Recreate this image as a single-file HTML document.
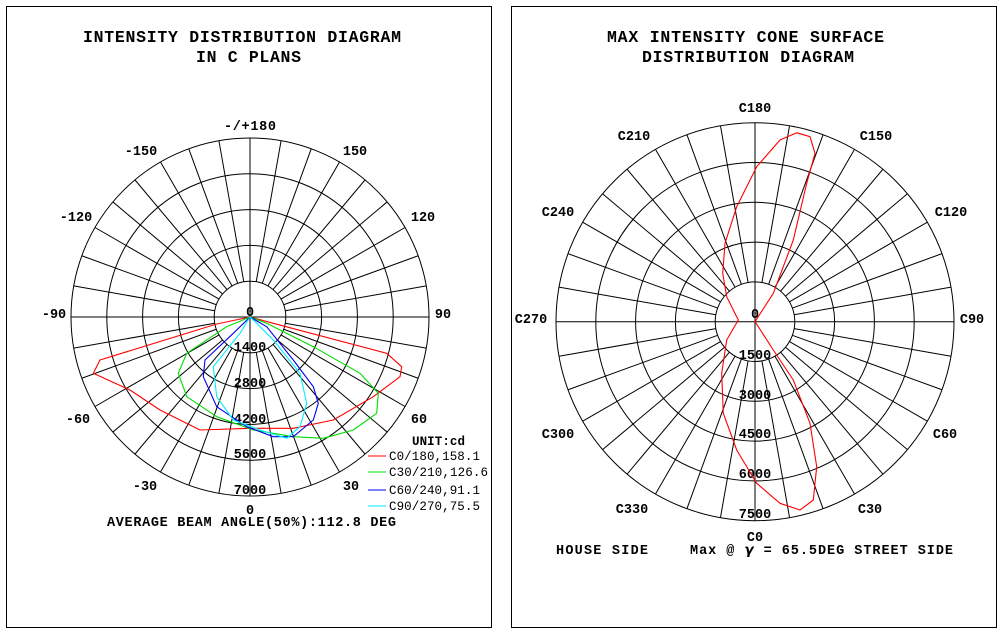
<!DOCTYPE html>
<html><head><meta charset="utf-8"><style>
html,body{margin:0;padding:0;background:#fff;}
svg{display:block;}
text{font-family:"Liberation Mono","DejaVu Sans Mono",monospace;fill:#000;}
.t{font-size:16.5px;font-weight:bold;}
.l{font-size:13.5px;font-weight:bold;}
.s{font-size:12.5px;}
.b{font-size:13.5px;font-weight:bold;}
</style></head><body>
<svg id="s" width="1002" height="635" viewBox="0 0 1002 635" xmlns="http://www.w3.org/2000/svg">
<rect x="6.5" y="6.5" width="485" height="621" fill="none" stroke="#000" stroke-width="1"/>
<rect x="511.5" y="6.5" width="485" height="621" fill="none" stroke="#000" stroke-width="1"/>
<g id="g1" stroke="#000" stroke-width="1" fill="none"></g>
<g id="g2" stroke="#000" stroke-width="1" fill="none"></g>
<text class="t" x="83" y="42" textLength="318" lengthAdjust="spacing">INTENSITY DISTRIBUTION DIAGRAM</text>
<text class="t" x="196" y="62" textLength="105" lengthAdjust="spacing">IN C PLANS</text>
<text class="t" x="607" y="42" textLength="277" lengthAdjust="spacing">MAX INTENSITY CONE SURFACE</text>
<text class="t" x="642" y="62" textLength="212" lengthAdjust="spacing">DISTRIBUTION DIAGRAM</text>
<g class="l" text-anchor="middle">
<text x="250" y="130" textLength="52" lengthAdjust="spacing">-/+180</text>
<text x="355" y="155">150</text><text x="141" y="155">-150</text>
<text x="423" y="221">120</text><text x="76" y="221">-120</text>
<text x="443" y="318">90</text><text x="54" y="318">-90</text>
<text x="419" y="423">60</text><text x="78" y="423">-60</text>
<text x="351" y="490">30</text><text x="145" y="490">-30</text>
<text x="250" y="514">0</text>
<text x="250" y="316">0</text>
<text x="250" y="351">1400</text><text x="250" y="387">2800</text><text x="250" y="423">4200</text><text x="250" y="458">5600</text><text x="250" y="494">7000</text>
<text x="755" y="112">C180</text>
<text x="876" y="140">C150</text><text x="634" y="140">C210</text>
<text x="951" y="216">C120</text><text x="558" y="216">C240</text>
<text x="972" y="323">C90</text><text x="531" y="323">C270</text>
<text x="945" y="438">C60</text><text x="558" y="438">C300</text>
<text x="870" y="513">C30</text><text x="632" y="513">C330</text>
<text x="755" y="541">C0</text>
<text x="755" y="318">0</text>
<text x="755" y="359">1500</text><text x="755" y="399">3000</text><text x="755" y="438">4500</text><text x="755" y="478">6000</text><text x="755" y="518">7500</text>
</g>
<text class="s" x="412" y="445" font-weight="bold" textLength="53" lengthAdjust="spacing">UNIT:cd</text>
<g class="s">
<text x="389" y="460" textLength="91" lengthAdjust="spacing">C0/180,158.1</text>
<text x="389" y="476" textLength="99" lengthAdjust="spacing">C30/210,126.6</text>
<text x="389" y="494" textLength="91" lengthAdjust="spacing">C60/240,91.1</text>
<text x="389" y="510" textLength="91" lengthAdjust="spacing">C90/270,75.5</text>
</g>
<line x1="368" y1="456" x2="386" y2="456" stroke="#ff0000"/>
<line x1="368" y1="472" x2="386" y2="472" stroke="#00dd00"/>
<line x1="368" y1="490" x2="386" y2="490" stroke="#0000ee"/>
<line x1="368" y1="506" x2="386" y2="506" stroke="#00eeff"/>
<text class="b" x="107" y="526" textLength="289" lengthAdjust="spacing">AVERAGE BEAM ANGLE(50%):112.8 DEG</text>
<text class="b" x="556" y="554" textLength="92" lengthAdjust="spacing">HOUSE SIDE</text>
<text class="b" x="690" y="554" textLength="263" lengthAdjust="spacing">Max @ <tspan font-family="DejaVu Sans" font-style="italic">γ</tspan> = 65.5DEG STREET SIDE</text>
<g fill="none" stroke-width="1.1" stroke-linejoin="round">
<path stroke="#ff0000" d="M250,317 L216.7,324 L100,360 L93.3,373.3 L130,390 L160,410 L200,430 L250,428.3 L293.3,428.3 L333.3,420 L373.3,396.7 L400,376.7 L401.7,366.7 L386.7,353.3 L273.3,323.3 Z"/>
<path stroke="#00dd00" d="M250,317 L226.7,326.7 L186.7,353.3 L178.3,373.3 L186.7,396.7 L216.7,416.7 L253.3,430 L293.3,436.7 L323.3,438.3 L353.3,430 L376.7,413.3 L378.3,393.3 L360,373.3 L313.3,346.7 L266.7,323.3 Z"/>
<path stroke="#0000ee" d="M250,317 L233.3,333.3 L205,360 L203.3,376.7 L216.7,406.7 L246.7,426.7 L273.3,436.7 L293.3,436.7 L313.3,420 L318.3,403.3 L313.3,386.7 L293.3,360 L266.7,326.7 Z"/>
<path stroke="#00eeff" d="M250,317 L240,333.3 L213.3,366.7 L216.7,396.7 L233.3,420 L260,430 L286.7,438.3 L300,426.7 L306.7,403.3 L300,373.3 L273.3,340 L256.7,323.3 Z"/>
<path stroke="#ff0000" d="M755,321.7 L773.3,293.3 L793.3,240 L806.7,183.3 L815,153.3 L810,136.7 L796.7,132.7 L780,140 L756.7,166.7 L736.7,206.7 L725,243.3 L722.7,273.3 L726.7,296.7 L738.3,320 L726.7,340 L721.7,373.3 L723.3,413.3 L736.7,450 L756.7,483.3 L780,503.3 L800,510 L813.3,500 L816.7,466.7 L810,423.3 L793.3,380 L773.3,350 L758.3,326.7 Z"/>
</g>
</svg>
<script>
function grid(id,cx,cy,R,ri,n){
 var g=document.getElementById(id),h='';
 for(var i=1;i<=n;i++){h+='<circle cx="'+cx+'" cy="'+cy+'" r="'+(R*i/n)+'"/>';}
 h+='<line x1="'+(cx-R)+'" y1="'+cy+'" x2="'+(cx+R)+'" y2="'+cy+'"/>';
 h+='<line x1="'+cx+'" y1="'+(cy-R)+'" x2="'+cx+'" y2="'+(cy+R)+'"/>';
 for(var a=0;a<360;a+=10){if(a%90==0)continue;var t=a*Math.PI/180,c=Math.cos(t),s=Math.sin(t);
  h+='<line x1="'+(cx+ri*c)+'" y1="'+(cy+ri*s)+'" x2="'+(cx+R*c)+'" y2="'+(cy+R*s)+'"/>';}
 g.innerHTML=h;
}
grid('g1',250,317,179,35.8,5);
grid('g2',755,321.7,199,39.8,5);
</script>
</body></html>
